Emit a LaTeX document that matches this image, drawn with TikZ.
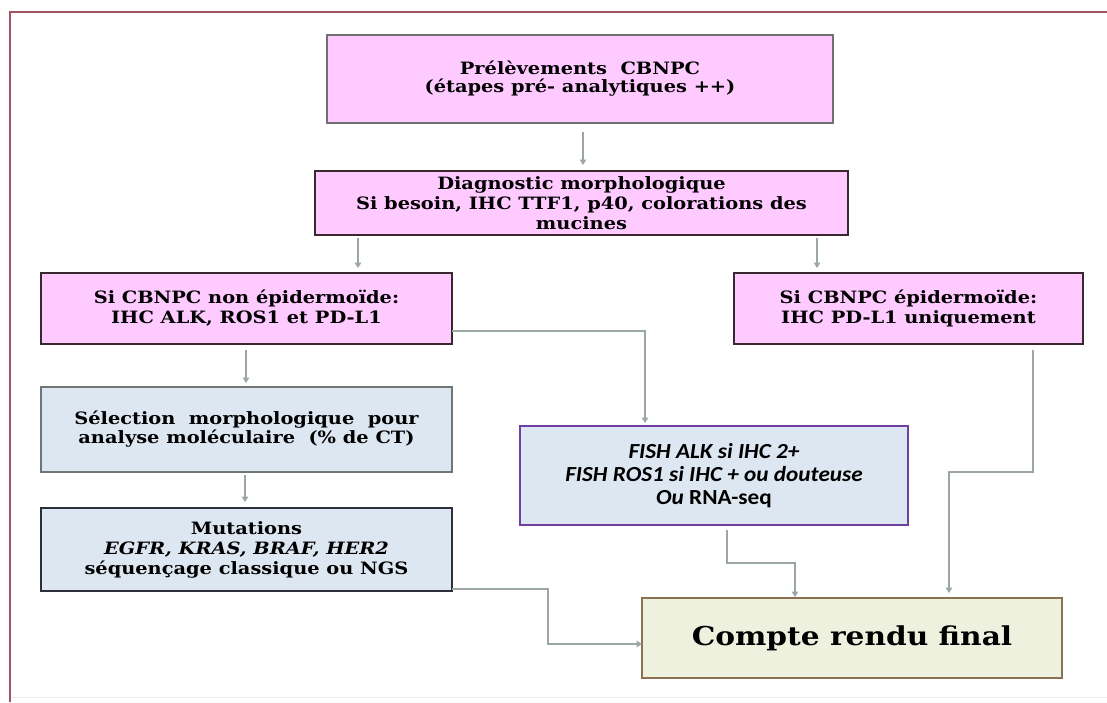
\documentclass[tikz,border=0pt]{standalone}
\usepackage{fontspec}
\setmainfont{DejaVu Serif}[FakeStretch=1.14]
\newfontfamily\fishfont{Carlito}[FakeStretch=1.08]
\usetikzlibrary{arrows.meta}
\definecolor{pinkfill}{RGB}{255,202,255}
\definecolor{bluefill}{RGB}{221,231,242}
\definecolor{greenfill}{RGB}{237,241,222}
\definecolor{darkborder}{RGB}{58,40,48}
\definecolor{grayborder}{RGB}{112,112,116}
\definecolor{slateborder}{RGB}{110,118,118}
\definecolor{navyborder}{RGB}{45,48,58}
\definecolor{purpleborder}{RGB}{112,64,160}
\definecolor{brownborder}{RGB}{140,112,84}
\definecolor{arrowgray}{RGB}{155,166,166}
\definecolor{framered}{RGB}{160,84,98}
\tikzset{
  box/.style={rectangle, inner sep=0pt, outer sep=0pt, align=center},
  serifbox/.style={box, font=\fontsize{17}{#1}\selectfont\bfseries},
  pinkbox/.style={serifbox=#1, fill=pinkfill, draw=darkborder, line width=2.5pt},
  topbox/.style={serifbox=#1, fill=pinkfill, draw=grayborder, line width=2pt},
  selbox/.style={serifbox=#1, fill=bluefill, draw=slateborder, line width=2pt},
  mutbox/.style={serifbox=#1, fill=bluefill, draw=navyborder, line width=2.5pt},
  fishbox/.style={box, fill=bluefill, draw=purpleborder, line width=2.2pt,
    font=\fishfont\fontsize{21.5}{23}\selectfont\bfseries\itshape},
  finalbox/.style={box, fill=greenfill, draw=brownborder, line width=2pt,
    font=\fontsize{26}{30}\selectfont\bfseries},
  arr/.style={draw=arrowgray, line width=1.6pt, -{Triangle[width=6.5pt,length=5.5pt]}},
}
\begin{document}
\begin{tikzpicture}[x=1pt,y=-1pt]
\useasboundingbox (0,0) rectangle (1107,702);
\fill[white] (0,0) rectangle (1107,702);
\draw[framered, line width=2pt] (10,702) -- (10,12) -- (1107,12);
\draw[framered!12, line width=1pt] (12,697) -- (1107,697);

\node[topbox=18, minimum width=506pt, minimum height=88pt] (box1) at (580,79)
  {Prélèvements\ \ CBNPC\\(étapes pré- analytiques ++)};
\node[pinkbox=20, minimum width=533pt, minimum height=64pt] (box2) at (581.5,203)
  {Diagnostic morphologique\\Si besoin, IHC TTF1, p40, colorations des\\mucines};
\node[pinkbox=20, minimum width=411pt, minimum height=71pt] (box3) at (246.5,308.5)
  {Si CBNPC non épidermoïde:\\IHC ALK, ROS1 et PD-L1};
\node[pinkbox=20, minimum width=349pt, minimum height=71pt] (box6) at (908.5,308.5)
  {Si CBNPC épidermoïde:\\IHC PD-L1 uniquement};
\node[selbox=19, minimum width=411pt, minimum height=85pt] (box4) at (246.5,429.5)
  {Sélection\ \ morphologique\ \ pour\\analyse moléculaire\ \ (\% de CT)};
\node[mutbox=20, minimum width=411pt, minimum height=83pt] (box5) at (246.5,549.5)
  {Mutations\\\textit{EGFR, KRAS, BRAF, HER2}\\séquençage classique ou NGS};
\node[fishbox, minimum width=388pt, minimum height=99pt] (fish) at (714,475.5)
  {FISH ALK si IHC 2+\\FISH ROS1 si IHC + ou douteuse\\Ou \upshape RNA-seq};
\node[finalbox, minimum width=420pt, minimum height=80pt] (final) at (852,638)
  {Compte rendu final};

\draw[arr, shorten <=9pt, shorten >=6pt] (box1.south -| 583,0) -- (box2.north -| 583,0);
\draw[arr, shorten <=3pt, shorten >=5pt] (box2.south -| 358,0) -- (box3.north -| 358,0);
\draw[arr, shorten <=3pt, shorten >=5pt] (box2.south -| 817,0) -- (box6.north -| 817,0);
\draw[arr, shorten <=6pt, shorten >=4pt] (box3.south -| 246,0) -- (box4.north -| 246,0);
\draw[arr, shorten <=3pt, shorten >=6pt] (box4.south -| 245,0) -- (box5.north -| 245,0);

\draw[arr, shorten >=3pt] (box3.east |- 0,331) -| ([xshift=-69pt]fish.north);

\coordinate (c2b) at (949,472);
\draw[arr, shorten <=6pt, shorten >=5pt] ([xshift=124.5pt]box6.south) |- (c2b) -- (c2b |- final.north);

\coordinate (c3b) at (795,563);
\draw[arr, shorten <=5pt, shorten >=1pt] ([xshift=13pt]fish.south) |- (c3b) -- (c3b |- final.north);

\coordinate (c4b) at (548,644);
\draw[arr] (box5.east |- 0,589) -| (c4b) -- (c4b -| final.west);
\end{tikzpicture}
\end{document}
